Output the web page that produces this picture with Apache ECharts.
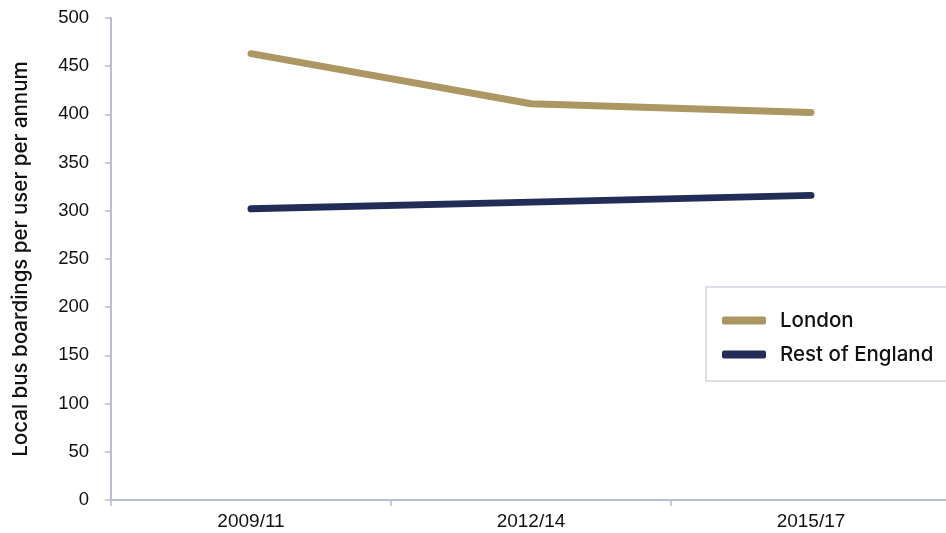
<!DOCTYPE html>
<html><head><meta charset="utf-8">
<script src="https://cdn.jsdelivr.net/npm/echarts@6/dist/echarts.min.js"></script>
<style>html,body{margin:0;padding:0;background:#fff}#c{width:946px;height:533px}</style>
</head><body><div id="c"></div>
<script>
const categories = ['2009/11', '2012/14', '2015/17'];
const london = [463, 411, 402];
const restOfEngland = [302, 309, 316];
const yTicks = [0, 50, 100, 150, 200, 250, 300, 350, 400, 450, 500];

const axisColor = '#b8bcd8';
const chart = echarts.init(document.getElementById('c'), null, {renderer: 'canvas'});
chart.setOption({
  animation: false,
  backgroundColor: '#fff',
  grid: {left: 111, top: 18, width: 840, height: 482, outerBoundsMode: 'none', containLabel: false},
  xAxis: {
    type: 'category', data: categories, boundaryGap: true,
    axisLine: {lineStyle: {color: axisColor, width: 2}},
    axisTick: {show: true, length: 6, lineStyle: {color: axisColor, width: 1.5}},
    axisLabel: {color: '#111', fontSize: 19, fontFamily: 'Liberation Sans, Arial, sans-serif', margin: 12}
  },
  yAxis: {
    type: 'value', min: yTicks[0], max: yTicks[yTicks.length - 1], interval: 50,
    name: 'Local bus boardings per user per annum', nameLocation: 'middle', nameGap: 80,
    nameTextStyle: {color: '#111', fontSize: 20.5, fontWeight: 500, fontFamily: 'Inter, Liberation Sans, sans-serif'},
    axisLine: {show: true, lineStyle: {color: axisColor, width: 2}},
    axisTick: {show: true, length: 6, lineStyle: {color: axisColor, width: 1.5}},
    splitLine: {show: false},
    axisLabel: {color: '#111', fontSize: 18.5, fontFamily: 'Liberation Sans, Arial, sans-serif', margin: 22}
  },
  legend: {
    orient: 'vertical', left: 706, top: 287,
    padding: [23, 30, 16, 16], itemGap: 13,
    itemWidth: 44, itemHeight: 8,
    borderColor: '#d4d4e2', borderWidth: 1.5,
    textStyle: {color: '#111', fontSize: 20.5, fontWeight: 500, fontFamily: 'Inter, Liberation Sans, sans-serif', padding: [0, 0, 0, 9]},
    data: [{name: 'London', icon: 'roundRect'}, {name: 'Rest of England', icon: 'roundRect'}]
  },
  series: [
    {name: 'London', type: 'line', data: london, showSymbol: false, symbol: 'none',
     itemStyle: {color: '#ac9762'}, lineStyle: {color: '#ac9762', width: 7, cap: 'round', join: 'round'}},
    {name: 'Rest of England', type: 'line', data: restOfEngland, showSymbol: false, symbol: 'none',
     itemStyle: {color: '#222d57'}, lineStyle: {color: '#222d57', width: 7, cap: 'round', join: 'round'}}
  ]
});
</script></body></html>
